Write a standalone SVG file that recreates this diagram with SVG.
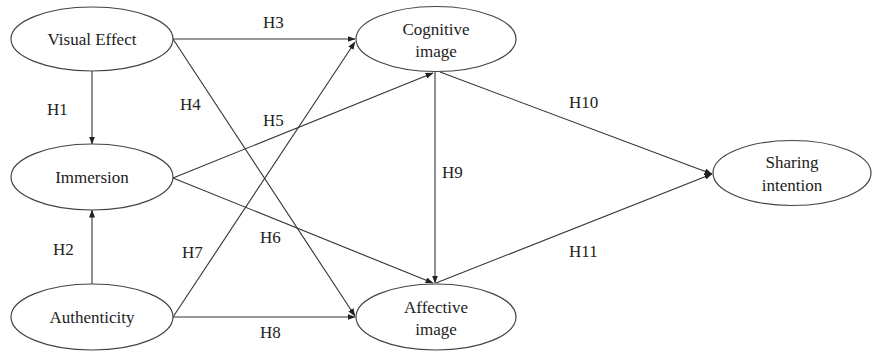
<svg xmlns="http://www.w3.org/2000/svg" width="878" height="352" viewBox="0 0 878 352">
<defs>
<marker id="ah" markerWidth="8" markerHeight="6" refX="7.5" refY="3" orient="auto" markerUnits="userSpaceOnUse">
<path d="M0,0 L8,3 L0,6 Z" fill="#222"/>
</marker>
<style>
.node ellipse{fill:#fff;stroke:#444;stroke-width:1.2}
text{font-family:"Liberation Serif","Times New Roman",serif;font-size:17px;fill:#222}
.nt{text-anchor:middle}
.conn line{stroke:#333;stroke-width:1.1;marker-end:url(#ah)}
</style>
</defs>
<rect width="878" height="352" fill="#fff"/>
<g class="conn" id="connectors">
<line x1="173" y1="39" x2="355" y2="39"/>
<line x1="173" y1="39" x2="355" y2="316"/>
<line x1="92" y1="71" x2="92" y2="144"/>
<line x1="92" y1="284" x2="92" y2="210"/>
<line x1="173" y1="178" x2="433" y2="73"/>
<line x1="173" y1="178" x2="433" y2="283"/>
<line x1="173" y1="317" x2="355" y2="42"/>
<line x1="173" y1="317" x2="355" y2="317"/>
<line x1="435" y1="72" x2="435" y2="283"/>
<line x1="440" y1="72" x2="712" y2="174"/>
<line x1="436" y1="283" x2="712" y2="174"/>
<text x="263" y="28">H3</text>
<text x="180" y="110">H4</text>
<text x="47" y="115">H1</text>
<text x="263" y="126">H5</text>
<text x="260" y="243">H6</text>
<text x="182" y="258">H7</text>
<text x="53" y="255">H2</text>
<text x="260" y="338">H8</text>
<text x="442" y="178">H9</text>
<text x="569" y="108">H10</text>
<text x="569" y="257">H11</text>
</g>
<g class="node" id="visual-effect">
<ellipse cx="92" cy="39" rx="81" ry="32"/>
<text class="nt" x="92" y="45">Visual Effect</text>
</g>
<g class="node" id="immersion">
<ellipse cx="92" cy="177" rx="81" ry="33"/>
<text class="nt" x="92" y="183">Immersion</text>
</g>
<g class="node" id="authenticity">
<ellipse cx="92" cy="317" rx="81" ry="33"/>
<text class="nt" x="92" y="323">Authenticity</text>
</g>
<g class="node" id="cognitive-image">
<ellipse cx="436" cy="39" rx="80" ry="32.5"/>
<text class="nt" x="436" y="35">Cognitive</text>
<text class="nt" x="436" y="57">image</text>
</g>
<g class="node" id="affective-image">
<ellipse cx="436" cy="317" rx="80" ry="33"/>
<text class="nt" x="436" y="313">Affective</text>
<text class="nt" x="436" y="335">image</text>
</g>
<g class="node" id="sharing-intention">
<ellipse cx="792" cy="173" rx="79" ry="32.5"/>
<text class="nt" x="792" y="168">Sharing</text>
<text class="nt" x="792" y="191">intention</text>
</g>
</svg>
